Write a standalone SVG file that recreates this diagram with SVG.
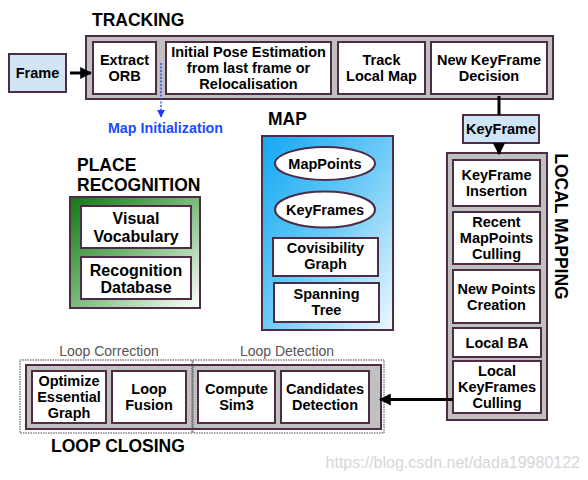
<svg xmlns="http://www.w3.org/2000/svg" width="588" height="480" viewBox="0 0 588 480">
<defs>
<linearGradient id="gGreen" x1="0" y1="0" x2="1" y2="1">
<stop offset="0" stop-color="#127812"/>
<stop offset="0.45" stop-color="#6fb46f"/>
<stop offset="1" stop-color="#ffffff"/>
</linearGradient>
<linearGradient id="gBlue" x1="0" y1="0" x2="1" y2="1">
<stop offset="0" stop-color="#12a8f2"/>
<stop offset="0.5" stop-color="#6ccaf7"/>
<stop offset="1" stop-color="#eef8fe"/>
</linearGradient>
<marker id="ah" viewBox="0 0 10 10" refX="9" refY="5" markerWidth="4" markerHeight="4" orient="auto">
<path d="M0,0 L10,5 L0,10 z" fill="#000"/>
</marker>
<marker id="ahb" viewBox="0 0 10 10" refX="9" refY="5" markerWidth="6" markerHeight="6" orient="auto">
<path d="M0,0 L10,5 L0,10 z" fill="#1a3cff"/>
</marker>
<style>
.grp{fill:#c0c0c0;stroke:#4d2d45;stroke-width:2}
.box{fill:#fff;stroke:#4d2d45;stroke-width:2}
.lb{fill:#cfe5f5;stroke:#4d2d45;stroke-width:2}
.t{font-family:"Liberation Sans",Arial,sans-serif;font-weight:bold;font-size:14.5px;fill:#000;text-anchor:middle}
.t16{font-size:16px}
.h{font-family:"Liberation Sans",Arial,sans-serif;font-weight:bold;font-size:17.5px;fill:#000}
.sub{font-family:"Liberation Sans",Arial,sans-serif;font-size:14px;fill:#555;text-anchor:middle}
.dot{fill:none;stroke:#444;stroke-width:1;stroke-dasharray:1.5 1}
.con{stroke:#000;stroke-width:3;fill:none}
</style>
</defs>

<!-- TRACKING -->
<g id="tracking">
<text class="h" x="92" y="26">TRACKING</text>
<rect class="grp" x="86" y="36" width="467" height="63"/>
</g>
<g id="frame">
<rect class="lb" x="9" y="54" width="57" height="38"/>
<text class="t" x="37.5" y="78">Frame</text>
</g>
<g id="extract-orb">
<rect class="box" x="93" y="42" width="63" height="52"/>
<text class="t" x="124.5" y="65">Extract</text>
<text class="t" x="124.5" y="81">ORB</text>
</g>
<g id="initial-pose">
<rect class="box" x="166" y="42" width="165" height="52"/>
<text class="t" x="248.5" y="57">Initial Pose Estimation</text>
<text class="t" x="248.5" y="73">from last frame or</text>
<text class="t" x="248.5" y="89">Relocalisation</text>
</g>
<g id="track-local-map">
<rect class="box" x="338" y="42" width="87" height="52"/>
<text class="t" x="381.5" y="65">Track</text>
<text class="t" x="381.5" y="81">Local Map</text>
</g>
<g id="new-keyframe-decision">
<rect class="box" x="431" y="42" width="116" height="52"/>
<text class="t" x="489" y="65">New KeyFrame</text>
<text class="t" x="489" y="81">Decision</text>
</g>
<g id="map-init">
<text x="165.5" y="133" font-family="Liberation Sans, Arial, sans-serif" font-weight="bold" font-size="14.3" fill="#1a4cff" text-anchor="middle">Map Initialization</text>
</g>
<g id="keyframe">
<rect class="lb" x="463" y="115" width="76" height="28"/>
<text class="t" x="501" y="134">KeyFrame</text>
</g>

<!-- MAP -->
<g id="map">
<text class="h" x="268" y="125">MAP</text>
<rect x="262" y="136" width="131" height="194" fill="url(#gBlue)" stroke="#4d2d45" stroke-width="2"/>
</g>
<g id="mappoints">
<ellipse cx="325" cy="163.5" rx="50" ry="16.5" fill="#fff" stroke="#4d2d45" stroke-width="2"/>
<text class="t" x="325" y="168.5">MapPoints</text>
</g>
<g id="keyframes">
<ellipse cx="325" cy="209.5" rx="50" ry="18" fill="#fff" stroke="#4d2d45" stroke-width="2"/>
<text class="t" x="325" y="214.5">KeyFrames</text>
</g>
<g id="covisibility-graph">
<rect class="box" x="273" y="238" width="105" height="38"/>
<text class="t" x="325.5" y="253">Covisibility</text>
<text class="t" x="325.5" y="269">Graph</text>
</g>
<g id="spanning-tree">
<rect class="box" x="274" y="283" width="105" height="39"/>
<text class="t" x="326.5" y="299">Spanning</text>
<text class="t" x="326.5" y="315">Tree</text>
</g>

<!-- PLACE RECOGNITION -->
<g id="place-recognition">
<text class="h" x="77" y="171">PLACE</text>
<text class="h" x="77" y="191">RECOGNITION</text>
<rect x="70" y="197" width="130" height="111" fill="url(#gGreen)" stroke="#4d2d45" stroke-width="2"/>
</g>
<g id="visual-vocabulary">
<rect class="box" x="81" y="206" width="110" height="42"/>
<text class="t t16" x="136" y="224">Visual</text>
<text class="t t16" x="136" y="242">Vocabulary</text>
</g>
<g id="recognition-database">
<rect class="box" x="81" y="257" width="110" height="42"/>
<text class="t t16" x="136" y="276">Recognition</text>
<text class="t t16" x="136" y="293">Database</text>
</g>

<!-- LOCAL MAPPING -->
<g id="local-mapping">
<rect class="grp" x="447" y="153" width="100" height="267"/>
<text class="h" transform="translate(555,226.5) rotate(90)" text-anchor="middle">LOCAL MAPPING</text>
</g>
<g id="keyframe-insertion">
<rect class="box" x="453" y="160" width="87" height="46"/>
<text class="t" x="496.5" y="180">KeyFrame</text>
<text class="t" x="496.5" y="196">Insertion</text>
</g>
<g id="recent-mappoints-culling">
<rect class="box" x="453" y="212" width="87" height="52"/>
<text class="t" x="496.5" y="227">Recent</text>
<text class="t" x="496.5" y="243">MapPoints</text>
<text class="t" x="496.5" y="259">Culling</text>
</g>
<g id="new-points-creation">
<rect class="box" x="453" y="270" width="87" height="53"/>
<text class="t" x="496.5" y="293.5">New Points</text>
<text class="t" x="496.5" y="309.5">Creation</text>
</g>
<g id="local-ba">
<rect class="box" x="453" y="328" width="88" height="29"/>
<text class="t" x="497" y="347.5">Local BA</text>
</g>
<g id="local-keyframes-culling">
<rect class="box" x="453" y="361" width="88" height="52"/>
<text class="t" x="497" y="376">Local</text>
<text class="t" x="497" y="392">KeyFrames</text>
<text class="t" x="497" y="408">Culling</text>
</g>

<!-- LOOP CLOSING -->
<g id="loop-closing">
<rect class="grp" x="26" y="365" width="355" height="64"/>
<rect class="dot" x="20" y="360" width="172" height="73"/>
<rect class="dot" x="193" y="360" width="191" height="73"/>
<text class="sub" x="109" y="356">Loop Correction</text>
<text class="sub" x="287" y="356">Loop Detection</text>
<text class="h" x="51" y="452">LOOP CLOSING</text>
</g>
<g id="optimize-essential-graph">
<rect class="box" x="32" y="371" width="74" height="52"/>
<text class="t" x="69" y="386">Optimize</text>
<text class="t" x="69" y="402">Essential</text>
<text class="t" x="69" y="418">Graph</text>
</g>
<g id="loop-fusion">
<rect class="box" x="112" y="371" width="74" height="52"/>
<text class="t" x="149" y="394">Loop</text>
<text class="t" x="149" y="410">Fusion</text>
</g>
<g id="compute-sim3">
<rect class="box" x="198" y="371" width="77" height="52"/>
<text class="t" x="236.5" y="394">Compute</text>
<text class="t" x="236.5" y="410">Sim3</text>
</g>
<g id="candidates-detection">
<rect class="box" x="281" y="371" width="88" height="52"/>
<text class="t" x="325" y="394">Candidates</text>
<text class="t" x="325" y="410">Detection</text>
</g>

<!-- connectors -->
<g id="connectors">
<line class="con" x1="70" y1="73" x2="91" y2="73" marker-end="url(#ah)"/>
<line x1="161" y1="63" x2="161" y2="117" stroke="#1a3cff" stroke-width="1.3" stroke-dasharray="2 1.5" marker-end="url(#ahb)"/>
<line class="con" x1="499" y1="96" x2="499" y2="115"/>
<line class="con" x1="499" y1="143" x2="499" y2="154" marker-end="url(#ah)"/>
<line class="con" x1="453" y1="399.5" x2="380" y2="399.5" marker-end="url(#ah)"/>
</g>

<text x="580" y="468" font-family="Liberation Sans, Arial, sans-serif" font-size="16" fill="#d6d6d6" text-anchor="end">https://blog.csdn.net/dada19980122</text>
</svg>
